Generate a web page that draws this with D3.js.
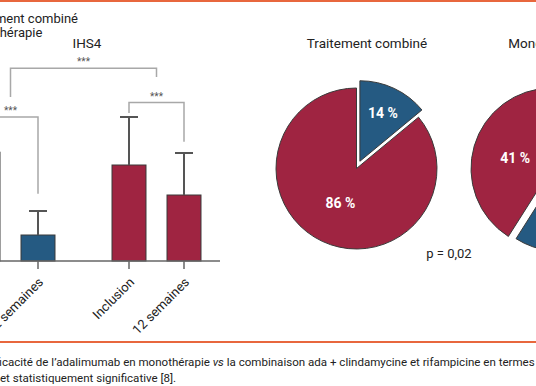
<!DOCTYPE html>
<html>
<head>
<meta charset="utf-8">
<script src="https://cdn.jsdelivr.net/npm/d3@7"></script>
<style>
  html, body { margin: 0; padding: 0; background: #fff; }
  svg { display: block; font-family: Roboto, "Noto Sans", sans-serif; }
</style>
</head>
<body>
<div id="chart"></div>
<script>
// bar chart data (IHS4)
const groups = ["Traitement combiné", "Monothérapie"];
const timepoints = ["Inclusion", "12 semaines"];
const combinedMean = [13.6, 3.25];
const combinedSD = [3.5, 3.0];
const monoMean = [12.0, 8.25];
const monoSD = [6.0, 5.25];
// significance brackets, in IHS4 units: [top, left leg end, right leg end]
const groupBrackets = [[18.0, 17.6, 8.4], [19.8, 18.5, 14.9]];
const betweenBracket = [24.1, 20.5, 23.0];
const sigLabel = "***";

// pie data (percent)
const pieTitles = ["Traitement combiné", "Monothérapie"];
const pieCombined = [14, 86];
const pieMono = [59, 41];
const pValue = "p = 0,02";

const colors = { blue: "#255a82", red: "#9f2441", orange: "#e8673d", edge: "#3a3a3a" };

const width = 536, height = 386;
const svg = d3.select("#chart").append("svg")
  .attr("width", width)
  .attr("height", height);

// orange frame lines
svg.append("rect").attr("x", 0).attr("y", 0).attr("width", width).attr("height", 2).attr("fill", colors.orange);
svg.append("rect").attr("x", 0).attr("y", 341).attr("width", width).attr("height", 2).attr("fill", colors.orange);

// ---------- bar chart ----------
const x0 = d3.scaleBand().domain(groups).range([-44.5, 211.5]).paddingInner(36 / 146);
const x1 = d3.scaleBand().domain(timepoints).range([0, x0.bandwidth()]).paddingInner(0.382).paddingOuter(0.191);
const y = d3.scaleLinear().domain([0, 20]).range([261, 101]);

const bars = [];
groups.forEach((g, gi) => {
  const means = gi === 0 ? combinedMean : monoMean;
  const sds = gi === 0 ? combinedSD : monoSD;
  timepoints.forEach((t, ti) => bars.push({ group: g, time: t, mean: means[ti], sd: sds[ti], color: gi === 0 ? colors.blue : colors.red }));
});
const cx = d => x0(d.group) + x1(d.time) + x1.bandwidth() / 2;

const bc = svg.append("g");

// legend (swatches lie off the left edge)
const legend = bc.append("g").attr("font-size", 13).attr("fill", "#222");
const l1 = legend.append("text").attr("y", 23).text(groups[0]);
const lx = 78 - l1.node().getComputedTextLength();
l1.attr("x", lx);
legend.append("text").attr("x", lx).attr("y", 37).text(groups[1]);
groups.forEach((g, i) => legend.append("rect").attr("x", lx - 16).attr("y", 14 + i * 14)
  .attr("width", 10).attr("height", 10).attr("fill", i === 0 ? colors.blue : colors.red));

bc.append("text").attr("x", 87).attr("y", 48).attr("text-anchor", "middle")
  .attr("font-size", 13.5).attr("fill", "#222").text("IHS4");

// bars
bc.selectAll("rect.bar").data(bars).join("rect")
  .attr("class", "bar")
  .attr("x", d => cx(d) - x1.bandwidth() / 2)
  .attr("width", x1.bandwidth())
  .attr("y", d => y(d.mean))
  .attr("height", d => y(0) - y(d.mean))
  .attr("fill", d => d.color)
  .attr("stroke", colors.edge)
  .attr("stroke-width", 1);

// error bars
const eb = bc.append("g").attr("stroke", "#555").attr("stroke-width", 2);
eb.selectAll("line.v").data(bars).join("line").attr("class", "v")
  .attr("x1", cx).attr("x2", cx)
  .attr("y1", d => y(d.mean)).attr("y2", d => y(d.mean + d.sd));
eb.selectAll("line.c").data(bars).join("line").attr("class", "c")
  .attr("x1", d => cx(d) - 9).attr("x2", d => cx(d) + 9)
  .attr("y1", d => y(d.mean + d.sd)).attr("y2", d => y(d.mean + d.sd));

// x axis
const xa = bc.append("g").attr("stroke", "#666");
xa.append("line").attr("x1", -60).attr("x2", 220).attr("y1", y(0)).attr("y2", y(0)).attr("stroke-width", 1.5);
xa.selectAll("line.t").data(bars).join("line").attr("class", "t")
  .attr("x1", cx).attr("x2", cx).attr("y1", y(0)).attr("y2", y(0) + 8).attr("stroke-width", 1.5);
bc.selectAll("text.xl").data(bars).join("text").attr("class", "xl")
  .attr("transform", d => `translate(${cx(d) + 6},${y(0) + 22}) rotate(-45)`)
  .attr("text-anchor", "end")
  .attr("font-size", 13)
  .attr("fill", "#222")
  .text(d => d.time);

// significance brackets
const sg = bc.append("g");
function bracket(xl, xr, b) {
  sg.append("path")
    .attr("d", `M${xl},${y(b[1])}V${y(b[0])}H${xr}V${y(b[2])}`)
    .attr("fill", "none").attr("stroke", "#a8a8a8").attr("stroke-width", 1.5);
  sg.append("text").attr("x", (xl + xr) / 2).attr("y", y(b[0]) - 3)
    .attr("text-anchor", "middle").attr("font-size", 10).attr("fill", "#555").text(sigLabel);
}
const mids = [];
groups.forEach((g, gi) => {
  const xl = x0(g) + x1(timepoints[0]) + x1.bandwidth() / 2;
  const xr = x0(g) + x1(timepoints[1]) + x1.bandwidth() / 2;
  bracket(xl, xr, groupBrackets[gi]);
  mids.push((xl + xr) / 2);
});
bracket(mids[0], mids[1], betweenBracket);

// ---------- pies ----------
const radius = 80.5;
const pieCenters = [[356.5, 168.5], [551.5, 168.5]];
const titleX = [367, 550];
const pie = d3.pie().sort(null).value(d => d);
const arc = d3.arc().innerRadius(0).outerRadius(radius);
const sliceColors = [colors.blue, colors.red];

[pieCombined, pieMono].forEach((vals, pi) => {
  const g = svg.append("g").attr("transform", `translate(${pieCenters[pi][0]},${pieCenters[pi][1]})`);
  svg.append("text").attr("x", titleX[pi]).attr("y", 48).attr("text-anchor", "middle")
    .attr("font-size", 13.5).attr("fill", "#222").text(pieTitles[pi]);
  const arcs = pie(vals);
  arcs.forEach((a, i) => {
    const mid = (a.startAngle + a.endAngle) / 2;
    const off = i === 0 ? 8 : 0;
    const dx = Math.sin(mid) * off, dy = -Math.cos(mid) * off;
    const sg2 = g.append("g").attr("transform", `translate(${dx},${dy})`);
    sg2.append("path").attr("d", arc(a)).attr("fill", sliceColors[i])
      .attr("stroke", colors.edge).attr("stroke-width", 1);
    const frac = (a.endAngle - a.startAngle) / (2 * Math.PI);
    const lr = frac < 0.25 ? radius * 0.67 : radius * 0.47;
    sg2.append("text")
      .attr("x", Math.sin(mid) * lr).attr("y", -Math.cos(mid) * lr)
      .attr("dy", "0.36em").attr("text-anchor", "middle")
      .attr("font-size", 14).attr("font-weight", "bold").attr("fill", "#fff")
      .text(a.data + " %");
  });
});

svg.append("text").attr("x", 449).attr("y", 258).attr("text-anchor", "middle")
  .attr("font-size", 13).attr("fill", "#222").text(pValue);

// ---------- caption ----------
// the caption is cropped at the left edge, "termes" ends at the right edge
const cap = svg.append("g").attr("fill", "#222");
const c1 = cap.append("text").attr("y", 366).attr("font-size", 12);
c1.append("tspan").text("Efficacité de l’adalimumab en monothérapie ");
c1.append("tspan").attr("font-style", "italic").text("vs");
c1.append("tspan").text(" la combinaison ada + clindamycine et rifampicine en termes");
const tmp = cap.append("text").attr("font-size", 12).text("Eff");
const full = c1.node().getComputedTextLength();
const cut = tmp.node().getComputedTextLength();
tmp.remove();
const fs = 12 * 535 / (full - cut);
c1.attr("font-size", fs).attr("x", -cut * fs / 12);
cap.append("text").attr("x", 0).attr("y", 382).attr("font-size", fs).text("et statistiquement significative [8].");
</script>
</body>
</html>
